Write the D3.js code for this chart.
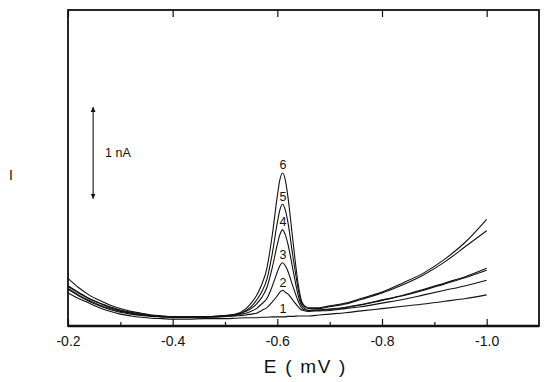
<!DOCTYPE html>
<html>
<head>
<meta charset="utf-8">
<script src="https://cdn.jsdelivr.net/npm/d3@7"></script>
<style>
  body { margin: 0; background: #fff; }
  svg { display: block; font-family: Arial, "Liberation Sans", sans-serif; }
  .curve { fill: none; stroke: #111; stroke-width: 1.1; stroke-linejoin: round; }
</style>
</head>
<body>
<div id="chart"></div>
<script>
// potencial E (V) comun para todas las curvas
var potential = [-0.20,-0.22,-0.24,-0.26,-0.28,-0.30,-0.32,-0.34,-0.36,-0.38,-0.40,
  -0.43,-0.46,-0.49,-0.52,
  -0.54,-0.55,-0.56,-0.57,-0.58,-0.59,-0.60,
  -0.605,-0.61,-0.615,
  -0.62,-0.63,-0.64,
  -0.645,-0.65,-0.66,
  -0.68,-0.70,-0.73,-0.76,-0.80,-0.84,-0.88,-0.92,-0.96,-1.00]

var current1 = [0.36,0.30,0.25,0.20,0.16,0.13,0.11,0.095,0.085,0.08,0.075,
  0.075,0.08,0.08,0.085,
  0.09,0.09,0.09,0.095,0.095,0.10,0.10,
  0.10,0.10,0.10,
  0.105,0.105,0.11,
  0.11,0.11,0.11,
  0.12,0.13,0.145,0.165,0.19,0.215,0.24,0.27,0.30,0.34]
var current2 = [0.40,0.33,0.27,0.22,0.18,0.15,0.13,0.115,0.105,0.10,0.095,
  0.095,0.095,0.10,0.11,
  0.12,0.13,0.14,0.17,0.20,0.26,0.33,
  0.37,0.39,0.37,
  0.35,0.28,0.21,
  0.18,0.17,0.16,
  0.165,0.17,0.19,0.21,0.25,0.29,0.34,0.39,0.44,0.50]
var current3 = [0.41,0.34,0.28,0.23,0.19,0.16,0.14,0.12,0.11,0.10,0.10,
  0.095,0.10,0.105,0.12,
  0.14,0.16,0.19,0.24,0.30,0.43,0.59,
  0.66,0.69,0.66,
  0.60,0.43,0.27,
  0.21,0.18,0.17,
  0.175,0.18,0.20,0.23,0.28,0.33,0.39,0.46,0.53,0.61]
var current4 = [0.43,0.36,0.30,0.25,0.20,0.17,0.145,0.125,0.115,0.105,0.10,
  0.10,0.10,0.11,0.12,
  0.16,0.19,0.24,0.31,0.42,0.63,0.89,
  1.00,1.05,1.00,
  0.90,0.61,0.33,
  0.24,0.20,0.17,
  0.175,0.185,0.205,0.235,0.285,0.335,0.40,0.47,0.54,0.63]
var current5 = [0.44,0.37,0.30,0.25,0.21,0.175,0.15,0.13,0.115,0.105,0.10,
  0.10,0.10,0.11,0.12,
  0.17,0.21,0.28,0.37,0.51,0.78,1.13,
  1.27,1.33,1.27,
  1.14,0.75,0.40,
  0.27,0.22,0.19,
  0.19,0.21,0.24,0.29,0.36,0.45,0.56,0.70,0.87,1.04]
var current6 = [0.52,0.42,0.34,0.28,0.23,0.19,0.16,0.14,0.12,0.11,0.10,
  0.10,0.10,0.11,0.13,
  0.19,0.25,0.33,0.45,0.63,0.98,1.42,
  1.60,1.67,1.60,
  1.42,0.92,0.45,
  0.30,0.23,0.20,
  0.20,0.22,0.25,0.30,0.37,0.47,0.58,0.73,0.92,1.165]

var curveNames = ['1','2','3','4','5','6']
var currents = [current1, current2, current3, current4, current5, current6]

var majorTicks = [-0.2,-0.4,-0.6,-0.8,-1.0]
var minorTicks = [-0.3,-0.5,-0.7,-0.9]

var peakE = -0.61
var barTop = 2.39   // nA, arriba de la flecha de escala
var barSpan = 1     // 1 nA
var barE = -0.248

var width = 550, height = 382
var margin = {left: 68, right: 11, top: 10, bottom: 56}

var svg = d3.select('#chart').append('svg')
  .attr('width', width)
  .attr('height', height)

var x = d3.scaleLinear().domain([-0.2, -1.1]).range([margin.left, width - margin.right])
var y = d3.scaleLinear().domain([0, 3.45]).range([height - margin.bottom, margin.top])

//////////
// EJES //
//////////

var fmt = function(d){ return d.toFixed(1) }

svg.append('g')
  .attr('transform', 'translate(0,' + y(0) + ')')
  .call(d3.axisBottom(x).tickValues(majorTicks).tickFormat(fmt).tickSizeInner(-7).tickSizeOuter(0).tickPadding(10))
  .call(function(g){
    g.select('.domain').remove()
    g.selectAll('.tick line').attr('stroke', '#111').attr('stroke-width', 1.2)
    g.selectAll('.tick text').attr('fill', '#111').style('font-size', '14px').style('font-family', 'Arial, "Liberation Sans", sans-serif')
  })

svg.append('g')
  .attr('transform', 'translate(0,' + y(0) + ')')
  .call(d3.axisBottom(x).tickValues(minorTicks).tickFormat('').tickSizeInner(-4).tickSizeOuter(0))
  .call(function(g){
    g.select('.domain').remove()
    g.selectAll('.tick line').attr('stroke', '#111').attr('stroke-width', 1.2)
  })

svg.append('g')
  .attr('transform', 'translate(0,' + margin.top + ')')
  .call(d3.axisTop(x).tickValues(majorTicks).tickFormat('').tickSizeInner(-7).tickSizeOuter(0))
  .call(function(g){
    g.select('.domain').remove()
    g.selectAll('.tick line').attr('stroke', '#111').attr('stroke-width', 1.2)
  })

// marco
svg.append('rect')
  .attr('x', x(-0.2)).attr('y', margin.top)
  .attr('width', x(-1.1) - x(-0.2)).attr('height', y(0) - margin.top)
  .attr('fill', 'none').attr('stroke', '#111').attr('stroke-width', 1.8)

svg.append('line')
  .attr('x1', x(-0.2)).attr('x2', x(-1.1))
  .attr('y1', y(0)).attr('y2', y(0))
  .attr('stroke', '#111').attr('stroke-width', 2.6)

////////////
// CURVAS //
////////////

var line = d3.line()
  .x(function(d){ return x(d[0]) })
  .y(function(d){ return y(d[1]) })
  .curve(d3.curveMonotoneX)

currents.forEach(function(serie, i){
  var pts = potential.map(function(e, j){ return [e, serie[j]] })
  svg.append('path')
    .attr('class', 'curve')
    .attr('d', line(pts))
})

// numeros de las curvas sobre el pico
var peakIndex = potential.indexOf(peakE)
curveNames.forEach(function(name, i){
  svg.append('text')
    .attr('x', x(peakE) + 0.5)
    .attr('y', y(currents[i][peakIndex]) - 8)
    .attr('dy', '.35em')
    .attr('text-anchor', 'middle')
    .style('font-size', '12.5px')
    .attr('fill', '#111')
    .text(name)
})

/////////////////////
// FLECHA DE 1 nA //
/////////////////////

var defs = svg.append('defs')
defs.append('marker')
  .attr('id', 'head')
  .attr('viewBox', '0 0 10 10')
  .attr('refX', 10).attr('refY', 5)
  .attr('markerWidth', 5).attr('markerHeight', 9)
  .attr('markerUnits', 'userSpaceOnUse')
  .attr('orient', 'auto-start-reverse')
  .append('path')
  .attr('d', 'M0,0 L10,5 L0,10 Z')
  .attr('fill', '#111')

svg.append('line')
  .attr('x1', x(barE)).attr('x2', x(barE))
  .attr('y1', y(barTop)).attr('y2', y(barTop - barSpan))
  .attr('stroke', '#111').attr('stroke-width', 1.1)
  .attr('marker-start', 'url(#head)')
  .attr('marker-end', 'url(#head)')

svg.append('text')
  .attr('x', x(barE) + 12)
  .attr('y', y(barTop - barSpan / 2))
  .attr('dy', '.35em')
  .style('font-size', '12.5px')
  .attr('fill', '#111')
  .text('1 nA')

//////////////
// TITULOS //
//////////////

svg.append('text')
  .attr('x', 11)
  .attr('y', 175)
  .attr('dy', '.35em')
  .attr('text-anchor', 'middle')
  .style('font-size', '14px')
  .attr('fill', '#111')
  .text('I')

svg.append('text')
  .attr('x', (x(-0.2) + x(-1.1)) / 2 + 2)
  .attr('y', 373)
  .attr('text-anchor', 'middle')
  .style('font-size', '19px')
  .style('letter-spacing', '1.7px')
  .attr('fill', '#111')
  .text('E ( mV )')
</script>
</body>
</html>
